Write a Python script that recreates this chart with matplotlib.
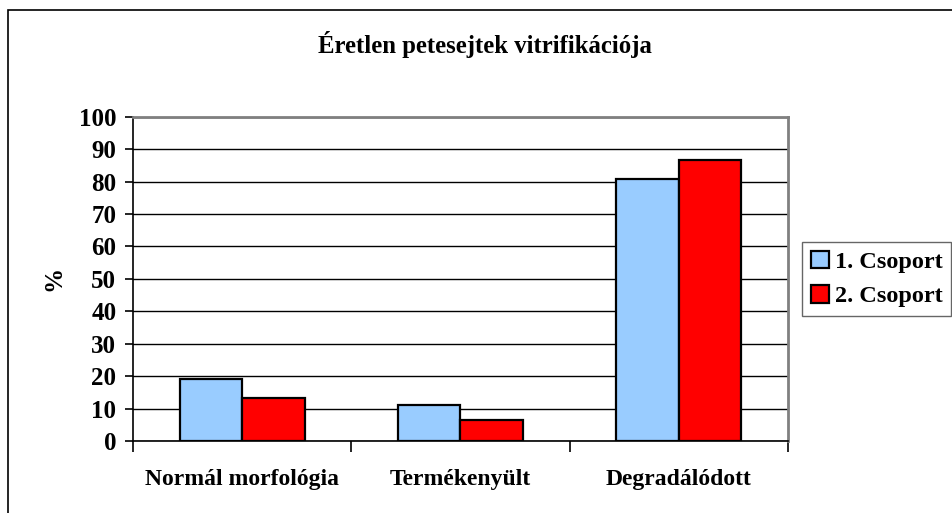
#! /usr/bin/env python3
# Vitrification of immature oocytes - grouped bar chart
import numpy as np
import matplotlib
matplotlib.use('Agg')
import matplotlib.pyplot as plt
from matplotlib.patches import Rectangle

categories = ['Normál morfológia', 'Termékenyült', 'Degradálódott']
group1 = [19.0, 11.0, 80.7]
group2 = [13.3, 6.6, 86.5]
series_names = ['1. Csoport', '2. Csoport']
yticks = [0, 10, 20, 30, 40, 50, 60, 70, 80, 90, 100]

plt.rcParams['font.family'] = ['Liberation Serif', 'DejaVu Serif']
plt.rcParams['font.weight'] = 'bold'

W, H = 953, 513
fig = plt.figure(figsize=(W / 100, H / 100), dpi=100)
ax = fig.add_axes([133 / W, (H - 441) / H, (788 - 133) / W, (441 - 116.7) / H])

x = np.arange(len(categories))
bw = 0.287
ax.bar(x - bw / 2, group1, bw, color='#99ccff', edgecolor='black', linewidth=1.6,
       label=series_names[0], zorder=3)
ax.bar(x + bw / 2, group2, bw, color='#ff0000', edgecolor='black', linewidth=1.6,
       label=series_names[1], zorder=3)

ax.set_xlim(-0.5, len(categories) - 0.5)
ax.set_ylim(0, 100)
ax.set_yticks(yticks)
ax.set_yticklabels([str(v) for v in yticks], fontsize=18, fontweight='bold')
ax.yaxis.grid(True, color='black', linewidth=1.0, zorder=0)
ax.set_axisbelow(True)

# category labels between boundary ticks, like the spreadsheet chart
ax.set_xticks(np.arange(-0.5, len(categories), 1.0))
ax.set_xticklabels([])
ax.set_xticks(x, minor=True)
ax.set_xticklabels(categories, minor=True, fontsize=17, fontweight='bold')
ax.tick_params(axis='x', which='major', direction='out', length=8, width=1.2)
ax.tick_params(axis='x', which='minor', length=0, pad=20)
ax.tick_params(axis='y', direction='out', length=6, width=1.2, pad=6)

for s in ['top', 'right']:
    ax.spines[s].set_color('#808080')
    ax.spines[s].set_linewidth(2)
for s in ['left', 'bottom']:
    ax.spines[s].set_color('black')
    ax.spines[s].set_linewidth(1.2)

ax.set_ylabel('%', fontsize=18, fontweight='bold', labelpad=10)

fig.text(485 / W, (H - 45) / H, 'Éretlen petesejtek vitrifikációja',
         ha='center', va='center', fontsize=17.8, fontweight='bold')

leg = fig.legend(loc='upper left', bbox_to_anchor=(802 / W, (H - 242) / H),
                 fontsize=17.5, frameon=True, fancybox=False, edgecolor='#404040',
                 handlelength=0.75, handleheight=0.75, handletextpad=0.25,
                 borderpad=0.35, labelspacing=0.5, borderaxespad=0)
leg.get_frame().set_linewidth(1)
for t in leg.get_texts():
    t.set_fontweight('bold')

# outer chart frame
fig.patches.append(Rectangle((8 / W, -0.05), 1.1, (H - 10) / H + 0.05,
                             transform=fig.transFigure, fill=False,
                             edgecolor='black', linewidth=1.2))

fig.savefig('out.png', dpi=100)
